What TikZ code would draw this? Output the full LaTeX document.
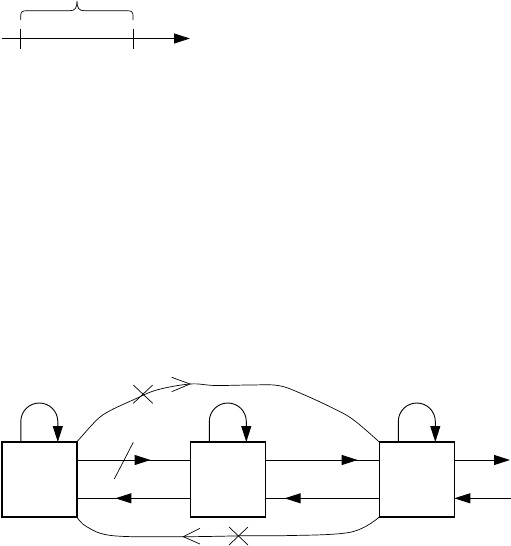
\documentclass[tikz,border=0pt]{standalone}
\usetikzlibrary{arrows.meta,decorations.markings}
\begin{document}
\begin{tikzpicture}[x=1pt,y=-1pt,
  tip/.style={-{Triangle[length=16pt,width=10pt]}},
  ln/.style={line width=0.9pt},
  thin curve/.style={line width=0.7pt},
  box/.style={draw,line width=1.5pt,minimum width=75pt,minimum height=75pt,inner sep=0pt,outer sep=0pt},
  midarrow/.style={ln,decoration={markings,mark=at position #1 with {\arrow{Triangle[length=16pt,width=10pt]}}},postaction={decorate}}
]
\useasboundingbox (0,0) rectangle (511,546);
% top scale
\coordinate (s0) at (2,38.5);
\coordinate (s1) at (190,38.5);
\coordinate (t1) at (20.7,38.5);
\coordinate (t2) at (133,38.5);
\draw[ln,tip] (s0) -- (s1);
\draw[ln] ([yshift=10pt]t1) -- ([yshift=-10pt]t1);
\draw[ln] ([yshift=10pt]t2) -- ([yshift=-10pt]t2);
\draw[thin curve] (20.7,20) -- (20.7,16) .. controls (20.7,12) and (22,10.7) .. (27,10.7) -- (70,10.7)
  .. controls (75,10.7) and (77,8) .. (77,1) .. controls (77,8) and (79,10.7) .. (84,10.7) -- (127,10.7)
  .. controls (132,10.7) and (133,12) .. (133,16) -- (133,20);
% boxes
\node[box] (b1) at (39.3,479.5) {};
\node[box] (b2) at (227.8,479.5) {};
\node[box] (b3) at (416.8,479.5) {};
% self loops
\foreach \b in {b1,b2,b3}{
  \draw[ln,tip] ([xshift=19pt]\b.north west) -- ++(0,-20.5) arc[start angle=180,end angle=360,radius=18.5] -- ([xshift=56pt]\b.north west);
}
% horizontal arrows
\draw[midarrow=0.65] ([yshift=19.5pt]b1.east) -- ([yshift=19.5pt]b2.west);
\draw[midarrow=0.81] ([yshift=19.5pt]b2.east) -- ([yshift=19.5pt]b3.west);
\draw[midarrow=0.66] ([yshift=-18.8pt]b2.west) -- ([yshift=-18.8pt]b1.east);
\draw[midarrow=0.83] ([yshift=-18.8pt]b3.west) -- ([yshift=-18.8pt]b2.east);
\coordinate (out1) at (510,460);
\coordinate (in1) at (511,498.3);
\draw[ln,tip] ([yshift=19.5pt]b3.east) -- (out1);
\draw[ln,tip] (in1) -- ([yshift=-18.8pt]b3.east);
% slash
\draw[thin curve] (114.3,479) -- (133.3,442.3);
% top curve
\draw[thin curve] plot[smooth,tension=0.6] coordinates {(b1.north east) (96.7,420) (110,410.7) (133,400) (156.7,390) (190,384) (215,385.5) (250,385) (278,385.5) (300,393) (336.7,410) (355,421) (b3.north west)};
\draw[thin curve] (171.7,377.3) -- (190,384) -- (171.7,391.7);
\draw[thin curve] (133.3,385) -- (152.7,403.3) (133.3,403.3) -- (152.7,385);
% bottom curve
\draw[thin curve] plot[smooth,tension=0.6] coordinates {(b1.south east) (86.7,526.7) (113,535.7) (183,536.7) (250,535.7) (283,535.7) (350,532.3) (b3.south west)};
\draw[thin curve] (200,528.3) -- (183.3,536.7) -- (200,544);
\draw[thin curve] (229,527) -- (248,545) (229,545) -- (248,527);
\end{tikzpicture}
\end{document}
